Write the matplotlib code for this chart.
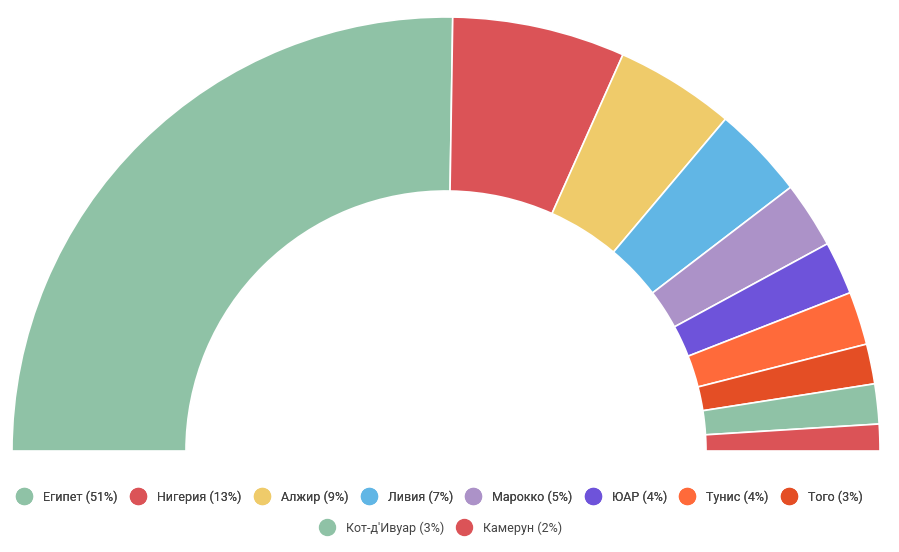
import matplotlib
matplotlib.use("Agg")
import matplotlib.pyplot as plt
from matplotlib.lines import Line2D

plt.rcParams['font.family'] = ['Roboto', 'DejaVu Sans']

# данные
countries = ["Египет", "Нигерия", "Алжир", "Ливия", "Марокко",
             "ЮАР", "Тунис", "Того", "Кот-д'Ивуар", "Камерун"]
shares = [51, 13, 9, 7, 5, 4, 4, 3, 3, 2]
colors = ["#8FC2A6", "#DB5357", "#EFCB6A", "#61B6E5", "#AC92C8",
          "#6E53DA", "#FF6A3A", "#E44E25", "#8FC2A6", "#DB5357"]

W, H = 899, 552
fig = plt.figure(figsize=(W / 100, H / 100), dpi=100)
ax = fig.add_axes([0, 0, 1, 1])

# половина кольца: скрытый сектор занимает нижнюю половину
vals = shares + [sum(shares)]
cols = colors + ["none"]
wedges, _ = ax.pie(vals, colors=cols, startangle=180, counterclock=False,
                   center=(446, 101), radius=434,
                   wedgeprops=dict(width=174, edgecolor="white", linewidth=1.2))
wedges[-1].set_edgecolor("none")
ax.set_xlim(0, W)
ax.set_ylim(0, H)
ax.set_aspect("auto")
ax.axis("off")

handles = [Line2D([], [], marker="o", linestyle="", markersize=11.5,
                  markerfacecolor=c, markeredgecolor=c) for c in colors]
labels = [f"{n} ({s}%)" for n, s in zip(countries, shares)]

common = dict(frameon=False, fontsize=9, handlelength=1.25, handletextpad=0.9,
              columnspacing=1.0, borderpad=0, labelcolor="#444444")
leg1 = fig.legend(handles[:8], labels[:8], ncol=8, loc="center",
                  bbox_to_anchor=(0.489, 1 - 497 / H), **common)
fig.add_artist(leg1)
fig.legend(handles[8:], labels[8:], ncol=2, loc="center",
           bbox_to_anchor=(0.490, 1 - 528 / H), **common)

fig.savefig("out.png", dpi=100)
